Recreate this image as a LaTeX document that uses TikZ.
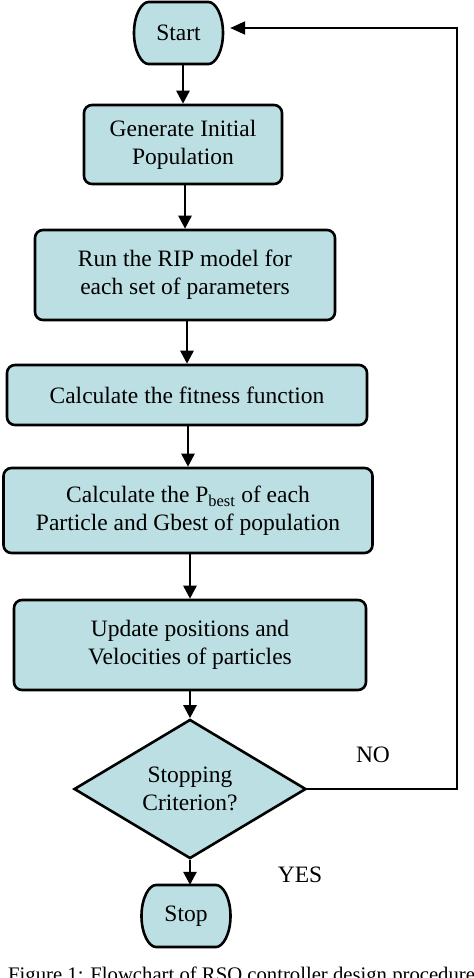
\documentclass[tikz,border=0pt]{standalone}
\usepackage{fontspec}
\setmainfont{Liberation Serif}
\usetikzlibrary{shapes.geometric,arrows.meta,backgrounds}
\definecolor{boxfill}{RGB}{187,223,227}
\tikzset{
  boxtext/.style={font=\fontsize{23.5}{28}\selectfont, align=center},
  procbox/.style={boxtext, draw=black, line width=2.6pt, fill=boxfill, rounded corners=8pt, inner sep=0pt},
  termnode/.style={boxtext, inner sep=0pt, minimum width=89pt, minimum height=62pt},
  termline/.style={draw=black, line width=2.6pt, fill=boxfill, line join=round},
  decbox/.style={boxtext, draw=black, line width=2.6pt, fill=boxfill, diamond, inner sep=0pt, line join=miter},
  arr/.style={line width=2.6pt, -{Triangle[width=13pt,length=13pt]}},
  fbline/.style={line width=2pt, -{Triangle[width=13pt,length=15pt]}},
  lbl/.style={font=\fontsize{23.5}{28}\selectfont, inner sep=0pt},
  capt/.style={font=\fontsize{20.7}{24}\selectfont, inner sep=0pt, anchor=base west}
}
\newcommand{\termpath}{(-30,31) -- (30,31) .. controls (37,31) and (44.5,18) .. (44.5,0) .. controls (44.5,-18) and (37,-31) .. (30,-31) -- (-30,-31) .. controls (-37,-31) and (-44.5,-18) .. (-44.5,0) .. controls (-44.5,18) and (-37,31) .. (-30,31) -- cycle}
\begin{document}
\begin{tikzpicture}[x=1pt,y=1pt]
\useasboundingbox (0,0) rectangle (474,-978);

\node[termnode] (start) at (178.5,-33) {Start};
\node[procbox, minimum width=198pt, minimum height=79pt] (gen) at (183,-144.5) {Generate Initial\\Population};
\node[procbox, minimum width=300pt, minimum height=90pt] (run) at (185,-275) {Run the RIP model for\\each set of parameters};
\node[procbox, minimum width=360pt, minimum height=60pt] (fit) at (187,-395) {Calculate the fitness function};
\node[procbox, minimum width=369pt, minimum height=85pt] (pbest) at (188,-510.5) {Calculate the P\textsubscript{best} of each\\Particle and Gbest of population};
\node[procbox, minimum width=352pt, minimum height=90pt] (upd) at (190,-645) {Update positions and\\Velocities of particles};
\node[decbox, minimum width=232pt, minimum height=118pt] (dec) at (190,-789) {Stopping\\Criterion?};
\node[termnode] (stop) at (186,-916) {Stop};

\begin{scope}[on background layer]
\fill[white] (0,0) rectangle (474,-978);
\draw[termline, shift={(start.center)}] \termpath;
\draw[termline, shift={(stop.center)}] \termpath;
\end{scope}

\draw[arr] (start.south -| gen.north) -- (gen.north);
\draw[arr] (gen.south -| run.north) -- (run.north);
\draw[arr] (run.south -| fit.north) -- (fit.north);
\draw[arr] (fit.south -| pbest.north) -- (pbest.north);
\draw[arr] (pbest.south -| upd.north) -- (upd.north);
\draw[arr] (upd.south) -- (dec.north);
\draw[arr] (dec.south) -- (dec.south |- stop.north);

\coordinate (fbtop) at (457,-28);
\draw[fbline, shorten >=7pt] (dec.east) -| (fbtop) -- (start.east |- fbtop);

\node[lbl] (no) at (373,-755) {NO};
\node[lbl] (yes) at (300,-875) {YES};
\node[capt] (cap) at (8,-981) {Figure 1: Flowchart of RSO controller design procedure};
\end{tikzpicture}
\end{document}
